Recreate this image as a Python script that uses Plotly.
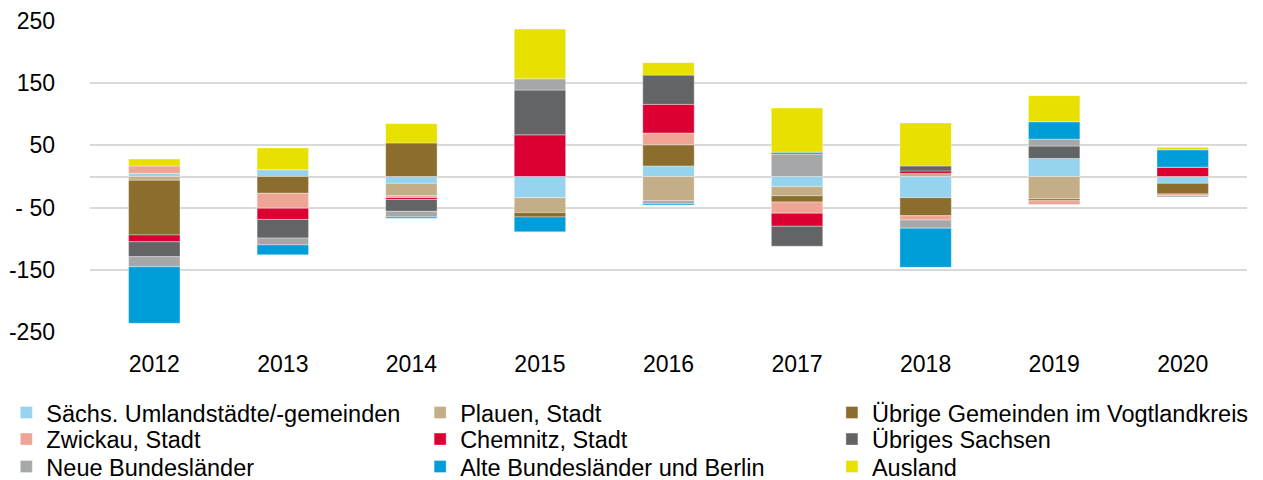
import plotly.graph_objects as go

years = ["2012", "2013", "2014", "2015", "2016", "2017", "2018", "2019", "2020"]

umland = [5, 11, -11, -34, 17, -16, -34, 29, -11]
plauen = [-6, 0, -20, -24, -39, -15, 5, -36, 0]
vogtland = [-88, -27, 54, -7, 34, -10, -29, -3, -17]
zwickau = [12, -24, -3, 0, 19, -18, -7, -6, -3]
chemnitz = [-11, -18, -3, 67, 46, -21, 4, 0, 15]
sachsen = [-24, -30, -19, 72, 47, -32, 8, 20, 0]
neue_bl = [-16, -11, -9, 18, -5, 36, -13, 11, -2]
alte_bl = [-91, -16, -2, -24, -2, 3, -63, 28, 28]
ausland = [11, 35, 31, 80, 20, 71, 69, 42, 4]

series = [
    ("Sächs. Umlandstädte/-gemeinden", umland, "#95D3EE"),
    ("Plauen, Stadt", plauen, "#C4AE88"),
    ("Übrige Gemeinden im Vogtlandkreis", vogtland, "#8B6D2E"),
    ("Zwickau, Stadt", zwickau, "#EFA596"),
    ("Chemnitz, Stadt", chemnitz, "#DC0032"),
    ("Übriges Sachsen", sachsen, "#636466"),
    ("Neue Bundesländer", neue_bl, "#A6A7A9"),
    ("Alte Bundesländer und Berlin", alte_bl, "#009ED8"),
    ("Ausland", ausland, "#E8E000"),
]

tick_vals = [-250, -150, -50, 50, 150, 250]
tick_text = ["-250", "-150", "- 50", "50", "150", "250"]

FONT = "Liberation Sans, Arial, sans-serif"
FS = 23
LFS = 23.5

# figure is drawn with an 8px page offset, so size/positions are compensated
W, H = 1255, 472
ML, MR, MT, MB = 81.7, 15.7, 13, 147.5
PW = W - ML - MR
col_x = [-2, 412, 824]          # legend box left edges, figure px
row_y = [404.7, 431.3, 458.7]   # legend row centres, figure px

fig = go.Figure()
layout_legends = {}
for i, (name, vals, col) in enumerate(series):
    lname = "legend" if i == 0 else f"legend{i+1}"
    fig.add_trace(go.Bar(
        x=years, y=vals, name=name,
        marker=dict(color=col, line=dict(color="rgba(255,255,255,0.6)", width=0.6)),
        legend=lname,
    ))
    r, c = divmod(i, 3)
    layout_legends[lname] = dict(
        x=(col_x[c] - ML) / PW, y=1 - row_y[r] / H,
        xref="paper", yref="container",
        xanchor="left", yanchor="middle",
        bgcolor="rgba(0,0,0,0)", borderwidth=0,
        font=dict(family=FONT, size=LFS, color="#000000"),
    )

fig.update_layout(
    barmode="relative",
    bargap=0.6,
    width=W, height=H,
    paper_bgcolor="white", plot_bgcolor="white",
    margin=dict(l=ML, r=MR, t=MT, b=MB, autoexpand=False),
    font=dict(family=FONT, size=FS, color="#000000"),
    showlegend=True,
    **layout_legends,
)

fig.update_xaxes(
    type="category", showgrid=False, showline=False, ticks="",
    ticklabelstandoff=16,
    tickfont=dict(family=FONT, size=FS, color="#000000"),
)
fig.update_yaxes(
    range=[-250, 250], tickvals=tick_vals, ticktext=tick_text,
    showgrid=True, gridcolor="#D9D9D9", gridwidth=1.5,
    zeroline=True, zerolinecolor="#D9D9D9", zerolinewidth=1.5,
    showline=False, ticks="", ticklabelstandoff=34,
    tickfont=dict(family=FONT, size=FS, color="#000000"),
)

fig.write_html("out.html")
